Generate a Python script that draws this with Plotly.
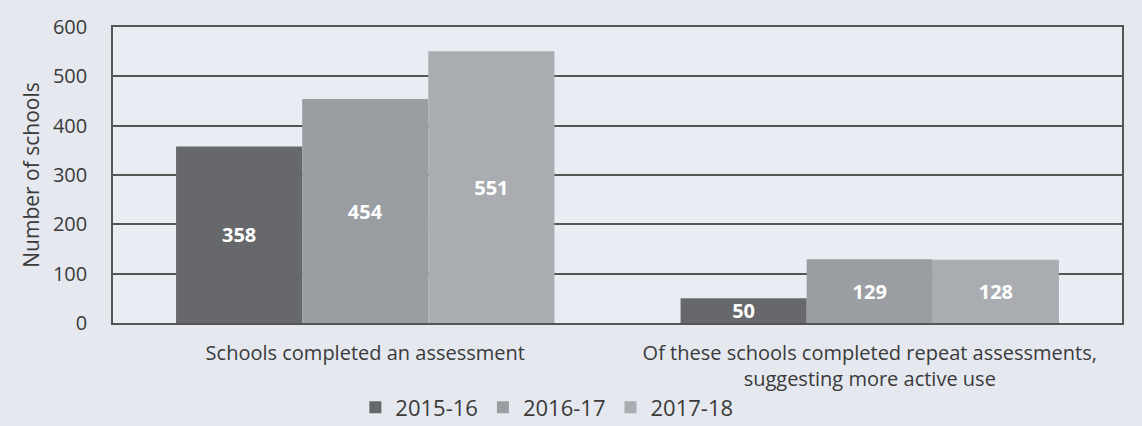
import plotly.graph_objects as go

categories = [
    "Schools completed an assessment",
    "Of these schools completed repeat assessments,<br>suggesting more active use",
]
series_names = ["2015-16", "2016-17", "2017-18"]
values_2015_16 = [358, 50]
values_2016_17 = [454, 129]
values_2017_18 = [551, 128]
series_values = [values_2015_16, values_2016_17, values_2017_18]
series_colors = ["#66686c", "#9a9ea3", "#a9adb2"]
y_ticks = [0, 100, 200, 300, 400, 500, 600]

FONT = "Open Sans"
TEXT = "#3a3a3a"

fig = go.Figure()
for name, vals, color in zip(series_names, series_values, series_colors):
    fig.add_trace(go.Bar(
        x=categories,
        y=vals,
        name=name,
        marker=dict(color=color, line=dict(width=0)),
        text=[str(v) for v in vals],
        textposition="inside",
        insidetextanchor="middle",
        constraintext="none",
        textangle=0,
        textfont=dict(family=FONT, size=20, color="white", weight="bold"),
    ))

fig.update_layout(
    width=1142,
    height=426,
    margin=dict(l=113, r=20, t=27, b=103, autoexpand=False),
    paper_bgcolor="#e5e9ef",
    plot_bgcolor="#e9edf3",
    barmode="group",
    bargap=0.25,
    bargroupgap=0,
    font=dict(family=FONT, color=TEXT, size=20),
    showlegend=True,
    legend=dict(
        orientation="h",
        x=0.43,
        xanchor="center",
        y=-0.285,
        yanchor="middle",
        font=dict(family=FONT, size=22, color=TEXT),
        itemwidth=30,
        traceorder="normal",
        bgcolor="rgba(0,0,0,0)",
    ),
)

fig.update_xaxes(
    automargin=False,
    showgrid=False,
    showline=True,
    linecolor="#555555",
    linewidth=1.5,
    mirror=True,
    ticks="",
    ticklabelstandoff=11,
    tickfont=dict(family=FONT, size=20, color=TEXT),
)

fig.update_yaxes(
    automargin=False,
    range=[0, 600],
    tickvals=y_ticks,
    showgrid=True,
    gridcolor="#555555",
    gridwidth=1.6,
    showline=True,
    linecolor="#555555",
    linewidth=1.5,
    mirror=True,
    zeroline=False,
    ticks="",
    ticklabelstandoff=20,
    tickfont=dict(family=FONT, size=20, color=TEXT),
    title=dict(text="Number of schools", font=dict(family=FONT, size=21, color=TEXT), standoff=8),
)

fig.write_html("out.html")
